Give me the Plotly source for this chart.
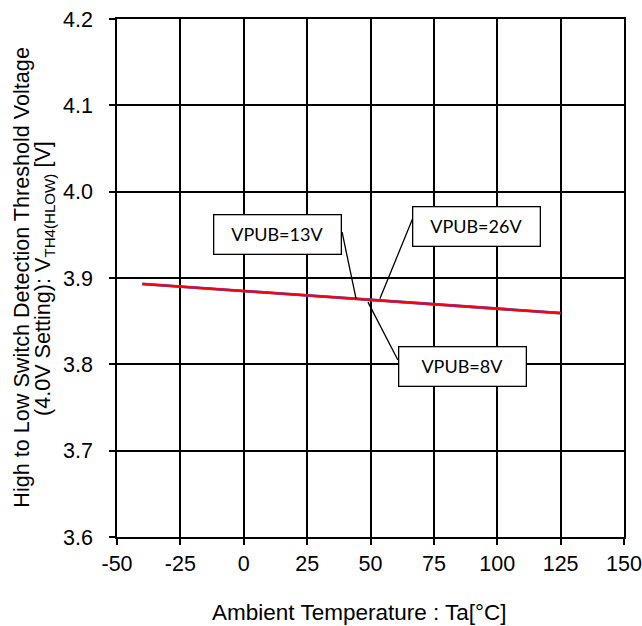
import plotly.graph_objects as go

temps = [-40, -25, 0, 25, 50, 75, 100, 125]
vpub_8v = [3.8932, 3.8902, 3.8851, 3.8800, 3.8747, 3.8696, 3.8644, 3.8594]
vpub_13v = [3.8930, 3.8900, 3.8850, 3.8799, 3.8746, 3.8695, 3.8643, 3.8593]
vpub_26v = [3.8931, 3.8901, 3.8850, 3.8800, 3.8746, 3.8695, 3.8644, 3.8594]

x_ticks = [-50, -25, 0, 25, 50, 75, 100, 125, 150]
y_ticks = [3.6, 3.7, 3.8, 3.9, 4.0, 4.1, 4.2]

labels = ["VPUB=13V", "VPUB=26V", "VPUB=8V"]
label_pos = [(13.3, 3.950), (91.8, 3.960), (86.1, 3.7975)]
leader_from = [(38.8, 3.953), (66.8, 3.970), (60.8, 3.805)]
leader_to = [(44.3, 3.876), (53.7, 3.876), (49.0, 3.872)]

fig = go.Figure()
fig.add_trace(go.Scatter(x=temps, y=vpub_8v, mode="lines", name="VPUB=8V",
                         line=dict(color="#5050c0", width=2.8)))
fig.add_trace(go.Scatter(x=temps, y=vpub_13v, mode="lines", name="VPUB=13V",
                         line=dict(color="#8040a0", width=2.6)))
fig.add_trace(go.Scatter(x=temps, y=vpub_26v, mode="lines", name="VPUB=26V",
                         line=dict(color="#ff0000", width=2.0)))

for (x0, y0), (x1, y1) in zip(leader_from, leader_to):
    fig.add_shape(type="line", x0=x0, y0=y0, x1=x1, y1=y1, xref="x", yref="y",
                  line=dict(color="black", width=1.3))

for txt, (x, y) in zip(labels, label_pos):
    fig.add_annotation(x=x, y=y, xref="x", yref="y", text=txt, showarrow=False,
                       font=dict(family="Lato", size=18, color="black"),
                       bgcolor="white", bordercolor="black", borderwidth=1.3,
                       borderpad=1, width=124, height=36)

tick_font = dict(family="Liberation Sans, Arial", size=21.5, color="black")
ytitle_font = dict(family="Liberation Sans, Arial", size=21.6, color="black")
xtitle_font = dict(family="Liberation Sans, Arial", size=22.5, color="black")

fig.add_annotation(x=-0.188, y=0.502, xref="paper", yref="paper",
                   text="High to Low Switch Detection Threshold Voltage",
                   textangle=-90, showarrow=False, font=ytitle_font,
                   xanchor="center", yanchor="middle")
fig.add_annotation(x=-0.144, y=0.500, xref="paper", yref="paper",
                   text="(4.0V Setting): V<sub>TH4(HLOW)</sub> [V]",
                   textangle=-90, showarrow=False, font=ytitle_font,
                   xanchor="center", yanchor="middle")
fig.add_annotation(x=0.479, y=-0.145, xref="paper", yref="paper",
                   text="Ambient Temperature : Ta[°C]", showarrow=False,
                   font=xtitle_font, xanchor="center", yanchor="middle")

fig.update_layout(
    width=642, height=626,
    margin=dict(l=117, r=18, t=19, b=89),
    paper_bgcolor="white", plot_bgcolor="white",
    showlegend=False,
)
fig.update_xaxes(range=[-50, 150], tickvals=x_ticks, ticktext=[str(v) for v in x_ticks],
                 showgrid=True, gridcolor="black", gridwidth=1.5,
                 showline=True, linecolor="black", linewidth=1.5, mirror=True,
                 ticks="outside", ticklen=6, tickcolor="black", tickwidth=1.5,
                 tickfont=tick_font, zeroline=False, automargin=False,
                 ticklabeloverflow="allow")
fig.update_yaxes(range=[3.6, 4.2], tickvals=y_ticks, ticktext=[f"{v:.1f}" for v in y_ticks],
                 showgrid=True, gridcolor="black", gridwidth=1.5,
                 showline=True, linecolor="black", linewidth=1.5, mirror=True,
                 ticks="outside", ticklen=6, tickcolor="black", tickwidth=1.5,
                 tickfont=tick_font, zeroline=False, ticklabelstandoff=12,
                 automargin=False, ticklabeloverflow="allow")

fig.write_html(
    "out.html",
    config={"displayModeBar": False},
    post_script="document.body.style.margin='0';"
                "document.body.style.padding='0';"
                "document.documentElement.style.overflow='hidden';"
                "document.body.style.overflow='hidden';",
)
